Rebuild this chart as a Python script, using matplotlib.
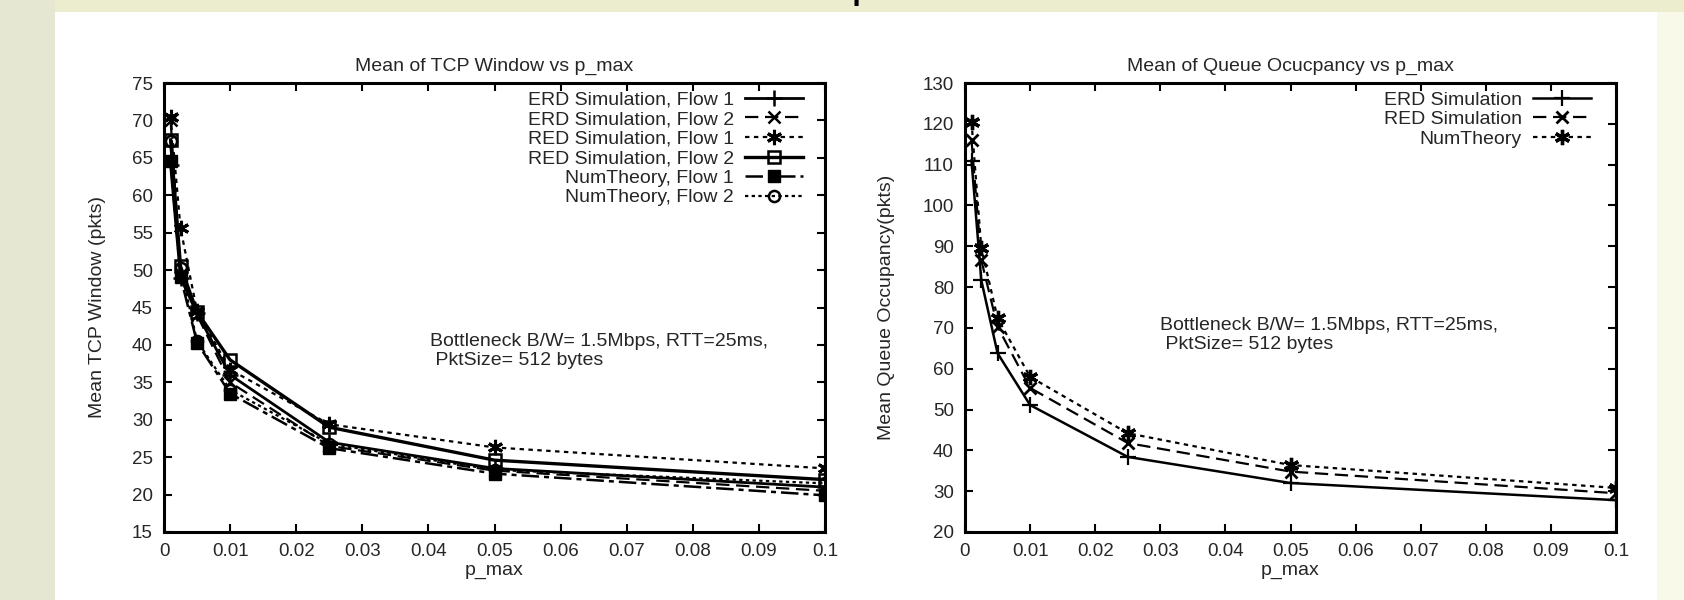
import matplotlib
matplotlib.use("Agg")
import matplotlib.pyplot as plt
from matplotlib.patches import Rectangle

plt.rcParams['font.family'] = ['Liberation Sans', 'DejaVu Sans']

# p_max sample points
p_max = [0.001, 0.0025, 0.005, 0.01, 0.025, 0.05, 0.1]

# mean TCP window (pkts)
erd_flow1 = [64.0, 49.0, 44.2, 36.0, 27.0, 23.5, 21.0]
erd_flow2 = [70.0, 49.5, 44.0, 35.0, 26.5, 23.2, 20.5]
red_flow1 = [70.5, 55.6, 44.5, 36.7, 29.4, 26.3, 23.5]
red_flow2 = [67.4, 50.5, 44.4, 38.0, 29.0, 24.6, 22.0]
num_flow1 = [64.6, 49.1, 40.3, 33.5, 26.2, 22.8, 19.9]
num_flow2 = [67.3, 50.3, 40.5, 34.0, 26.8, 23.3, 21.5]

# mean queue occupancy (pkts)
erd_queue = [111.0, 81.7, 63.8, 51.1, 38.4, 32.0, 27.8]
red_queue = [116.0, 86.6, 70.3, 55.3, 41.8, 34.8, 29.5]
num_queue = [120.5, 89.6, 72.4, 58.0, 44.2, 36.4, 30.8]

x_ticks = [0, 0.01, 0.02, 0.03, 0.04, 0.05, 0.06, 0.07, 0.08, 0.09, 0.1]
x_tick_labels = ['0', '0.01', '0.02', '0.03', '0.04', '0.05', '0.06', '0.07', '0.08', '0.09', '0.1']

note = 'Bottleneck B/W= 1.5Mbps, RTT=25ms,\n PktSize= 512 bytes'
star = (6, 2, 0)
text_color = '#262626'
fs = 14

fig = plt.figure(figsize=(16.84, 6.0), dpi=100, facecolor='#ECEDCF')

# slide background pieces (behind the axes)
for x0, x1, h, col in [(0, 55, 600, '#E6E7D3'), (55, 1657, 588, 'white'), (1657, 1684, 588, '#F8F9E8')]:
    fig.patches.append(Rectangle((x0 / 1684, 0), (x1 - x0) / 1684, h / 600, transform=fig.transFigure,
                                 facecolor=col, edgecolor='none', zorder=-10))
# slide heading, cut off by the top edge
fig.text(830 / 1684, 1 + 1 / 600, 'Mean Comparison', ha='center', va='baseline',
         fontsize=22, fontweight='bold', color='black', zorder=-5)

ax1 = fig.add_axes([164 / 1684, 1 - 532 / 600, 661 / 1684, 449 / 600])
ax2 = fig.add_axes([965 / 1684, 1 - 532 / 600, 651 / 1684, 449 / 600])


def style_axes(ax, title, ylabel, ylim, yticks, ylabel_x):
    ax.set_facecolor('white')
    ax.set_xlim(0, 0.1)
    ax.set_ylim(*ylim)
    ax.set_xticks(x_ticks)
    ax.set_xticklabels(x_tick_labels)
    ax.set_yticks(yticks)
    ax.tick_params(direction='in', length=6, width=1.5, top=True, right=True,
                   labelsize=13.5, labelcolor=text_color, pad=8)
    for s in ax.spines.values():
        s.set_linewidth(2.2)
    ax.set_title(title, fontsize=fs, color=text_color, pad=9)
    ax.set_xlabel('p_max', fontsize=fs, color=text_color)
    ax.set_ylabel(ylabel, fontsize=fs, color=text_color)
    ax.xaxis.set_label_coords(0.5, -0.067)
    ax.yaxis.set_label_coords(ylabel_x, 0.5)


def add_legend(ax, right):
    ax.legend(loc='upper right', bbox_to_anchor=(right, 0.982), frameon=False, markerfirst=False,
              fontsize=fs, labelspacing=0.1, handlelength=3.0, handletextpad=0.57,
              borderpad=0, borderaxespad=0, labelcolor=text_color)


# left: TCP window
ax1.plot(p_max, erd_flow1, color='black', lw=2.0, ls='-', marker='+', ms=11, mew=1.8,
         label='ERD Simulation, Flow 1')
ax1.plot(p_max, erd_flow2, color='black', lw=1.6, ls=(0, (6, 3)), marker='x', ms=9, mew=1.8,
         label='ERD Simulation, Flow 2')
ax1.plot(p_max, red_flow1, color='black', lw=1.6, ls=(0, (2, 2)), marker=star, ms=11, mew=2.2,
         label='RED Simulation, Flow 1')
ax1.plot(p_max, red_flow2, color='black', lw=2.4, ls='-', marker='s', ms=9, mew=1.8,
         mfc='none', label='RED Simulation, Flow 2')
ax1.plot(p_max, num_flow1, color='black', lw=1.8, ls=(0, (7, 2, 2, 2)), marker='s', ms=9,
         mfc='black', label='NumTheory, Flow 1')
ax1.plot(p_max, num_flow2, color='black', lw=1.6, ls=(0, (1.5, 1.5)), marker='o', ms=8, mew=1.8,
         mfc='none', label='NumTheory, Flow 2')
style_axes(ax1, 'Mean of TCP Window vs p_max', 'Mean TCP Window (pkts)', (15, 75),
           range(15, 80, 5), -0.088)
ax1.text(0.402, 0.443, note, transform=ax1.transAxes, ha='left', va='top', fontsize=fs,
         color=text_color, linespacing=1.16)
add_legend(ax1, 0.967)

# right: queue occupancy
ax2.plot(p_max, erd_queue, color='black', lw=1.8, ls='-', marker='+', ms=11, mew=1.6,
         label='ERD Simulation')
ax2.plot(p_max, red_queue, color='black', lw=1.6, ls=(0, (6, 3)), marker='x', ms=9, mew=2.0,
         label='RED Simulation')
ax2.plot(p_max, num_queue, color='black', lw=1.6, ls=(0, (2, 2)), marker=star, ms=11, mew=2.4,
         label='NumTheory')
style_axes(ax2, 'Mean of Queue Ocucpancy vs p_max', 'Mean Queue Occupancy(pkts)', (20, 130),
           range(20, 140, 10), -0.107)
ax2.text(0.2995, 0.479, note, transform=ax2.transAxes, ha='left', va='top', fontsize=fs,
         color=text_color, linespacing=1.16)
add_legend(ax2, 0.962)

fig.savefig('out.png', dpi=100, facecolor=fig.get_facecolor())
